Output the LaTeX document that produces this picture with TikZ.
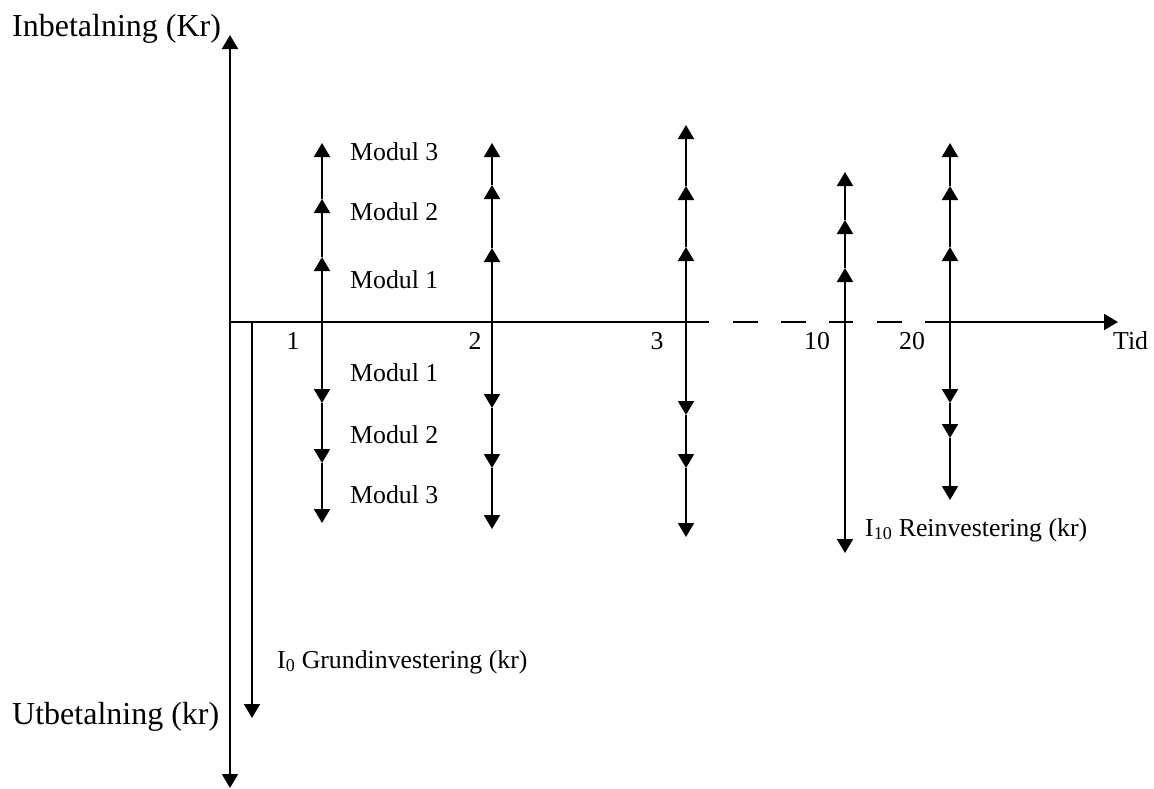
\documentclass[tikz,border=0pt]{standalone}
\usepackage{fontspec}
\setmainfont{Liberation Serif}
\usetikzlibrary{arrows.meta}
\tikzset{
  ln/.style={line width=2pt, black},
  arr/.style={ln, -{Triangle[length=14pt,width=16pt]}, shorten >=0pt},
  big/.style={font=\fontsize{32}{36}\selectfont, inner sep=0pt},
  lbl/.style={font=\fontsize{25.8}{30}\selectfont, inner sep=0pt},
}
\begin{document}
\begin{tikzpicture}[x=1pt,y=-1pt]
\useasboundingbox (0,0) rectangle (1154,788);
% axes
\coordinate (O) at (230,322);
\coordinate (ytop) at (230,35);
\coordinate (ybot) at (230,788);
\draw[arr] (O) -- (ytop);
\draw[arr] (O) -- (ybot);
\coordinate (h1) at (709,322);
\draw[ln] (O) -- (h1);
\foreach \a/\b in {733/758, 781/806, 829/853, 877/902}
  \draw[ln] (\a,322) -- (\b,322);
\coordinate (h2) at (925,322);
\coordinate (xend) at (1118,322);
\draw[arr] (h2) -- (xend);
% I0
\coordinate (i0s) at (252,322);
\coordinate (i0e) at (252,718);
\draw[arr] (i0s) -- (i0e);
% year columns
\foreach \n/\x/\ua/\ub/\uc/\da/\db/\dc in {
   1/322/257/199/143/403/463/523,
   2/492/248/185/143/408/468/529,
   3/686/247/186/125/415/468/537,
   20/950/247/186/143/403/438/500}{
  \coordinate (c\n) at (\x,322);
  \coordinate (u\n a) at (\x,\ua);
  \coordinate (u\n b) at (\x,\ub);
  \coordinate (u\n c) at (\x,\uc);
  \coordinate (d\n a) at (\x,\da);
  \coordinate (d\n b) at (\x,\db);
  \coordinate (d\n c) at (\x,\dc);
  \draw[arr] (c\n) -- (u\n a);
  \draw[arr] (u\n a) -- (u\n b);
  \draw[arr] (u\n b) -- (u\n c);
  \draw[arr] (c\n) -- (d\n a);
  \draw[arr] (d\n a) -- (d\n b);
  \draw[arr] (d\n b) -- (d\n c);
}
% year 10
\coordinate (c10) at (845,322);
\coordinate (u10a) at (845,268);
\coordinate (u10b) at (845,220);
\coordinate (u10c) at (845,172);
\coordinate (d10) at (845,553);
\draw[arr] (c10) -- (u10a);
\draw[arr] (u10a) -- (u10b);
\draw[arr] (u10b) -- (u10c);
\draw[arr] (c10) -- (d10);
% labels
\node[big, anchor=base west] (tin) at (12,36) {Inbetalning (Kr)};
\node[big, anchor=base west] (tut) at (12,724) {Utbetalning (kr)};
\node[lbl, anchor=base] (n1) at (293,349) {1};
\node[lbl, anchor=base] (n2) at (475,349) {2};
\node[lbl, anchor=base] (n3) at (657,349) {3};
\node[lbl, anchor=base] (n10) at (817,349) {10};
\node[lbl, anchor=base] (n20) at (912,349) {20};
\node[lbl, anchor=base west] (tid) at (1113,349) {Tid};
\node[lbl, anchor=base west] (m3u) at (350,160) {Modul 3};
\node[lbl, anchor=base west] (m2u) at (350,220) {Modul 2};
\node[lbl, anchor=base west] (m1u) at (350,288) {Modul 1};
\node[lbl, anchor=base west] (m1d) at (350,381) {Modul 1};
\node[lbl, anchor=base west] (m2d) at (350,443) {Modul 2};
\node[lbl, anchor=base west] (m3d) at (350,503) {Modul 3};
\node[lbl, anchor=base west] (ti0) at (277,668) {I\textsubscript{0} Grundinvestering (kr)};
\node[lbl, anchor=base west] (ti10) at (865,536) {I\textsubscript{10} Reinvestering (kr)};
\end{tikzpicture}
\end{document}
